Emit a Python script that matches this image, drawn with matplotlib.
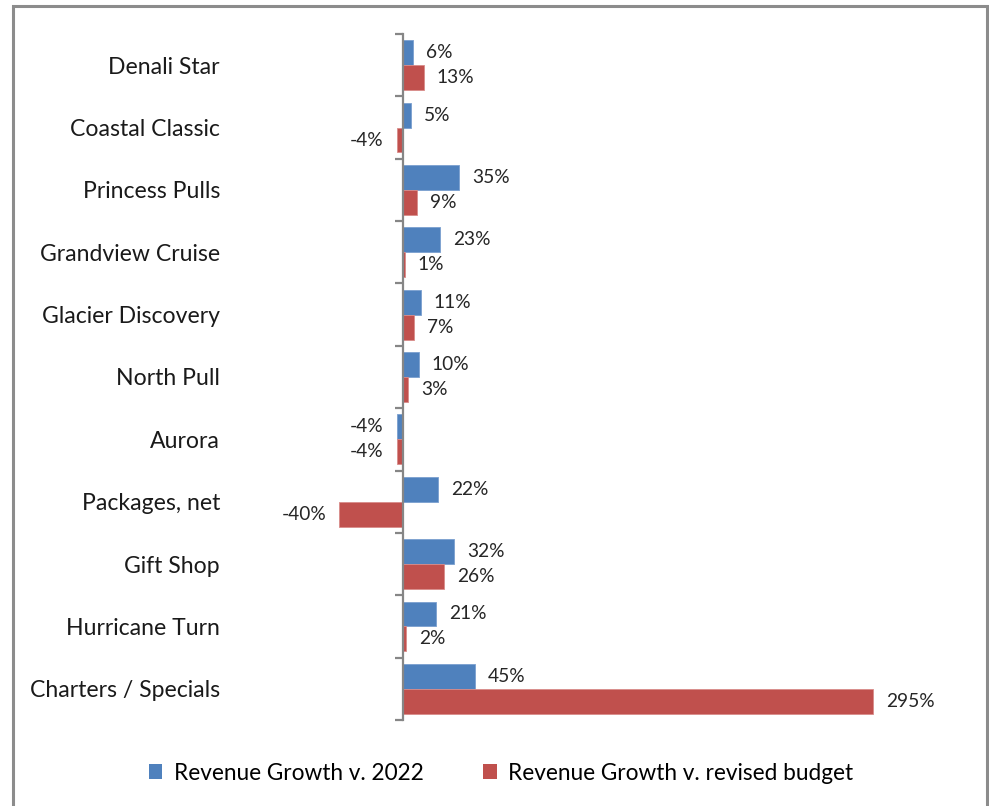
import matplotlib
matplotlib.use("Agg")
import matplotlib.pyplot as plt
from matplotlib.patches import Rectangle, Patch
from matplotlib.transforms import blended_transform_factory, offset_copy

# data
categories = ["Denali Star", "Coastal Classic", "Princess Pulls", "Grandview Cruise",
              "Glacier Discovery", "North Pull", "Aurora", "Packages, net",
              "Gift Shop", "Hurricane Turn", "Charters / Specials"]
growth_2022 = [6, 5, 35, 23, 11, 10, -4, 22, 32, 21, 45]
growth_budget = [13, -4, 9, 1, 7, 3, -4, -40, 26, 2, 295]
series_names = ["Revenue Growth v. 2022", "Revenue Growth v. revised budget"]

BLUE = "#4F81BD"
RED = "#C0504D"
FONT = "Lato"

plt.rcParams["font.family"] = [FONT, "DejaVu Sans"]

W, H = 989, 806
fig = plt.figure(figsize=(W / 100, H / 100), dpi=100)

# outer chart frame
fig.patches.append(Rectangle((13 / W, -0.02), 974 / W, 1.02 - 6 / H, transform=fig.transFigure,
                             fill=False, edgecolor="#8c8c8c", linewidth=2.2))

# plot area positioned so zero sits at x=403 px and 295% at x=873 px
px_per_unit = 470 / 295
xmin, xmax = -45, 310
left_px = 403 + xmin * px_per_unit
right_px = 403 + xmax * px_per_unit
top_px, bottom_px = 34, 720
ax = fig.add_axes([left_px / W, 1 - bottom_px / H, (right_px - left_px) / W, (bottom_px - top_px) / H])
ax.set_xlim(xmin, xmax)
n = len(categories)
ax.set_ylim(n - 0.5, -0.5)

pos = list(range(n))
h = 0.4
ax.barh([p - h / 2 for p in pos], growth_2022, height=h, color=BLUE, edgecolor="#7a9fcf", linewidth=0.6)
ax.barh([p + h / 2 for p in pos], growth_budget, height=h, color=RED, edgecolor="#d98c8a", linewidth=0.6)

off = 13 / px_per_unit
fs_val = 13.8
for p, v in zip(pos, growth_2022):
    ax.text(v + off if v >= 0 else v - off, p - h / 2, f"{v}%", ha="left" if v >= 0 else "right",
            va="center", fontsize=fs_val, color="#262626")
for p, v in zip(pos, growth_budget):
    ax.text(v + off if v >= 0 else v - off, p + h / 2, f"{v}%", ha="left" if v >= 0 else "right",
            va="center", fontsize=fs_val, color="#262626")

# category labels, right aligned at x=220 px
tr = offset_copy(blended_transform_factory(fig.transFigure, ax.transData), fig=fig, x=0, y=-2, units="dots")
for p, c in zip(pos, categories):
    fig.text(220 / W, p, c, transform=tr, ha="right", va="center", fontsize=16.6, color="#1a1a1a")

# vertical axis at zero with ticks at category boundaries
for s in ["top", "right", "bottom"]:
    ax.spines[s].set_visible(False)
ax.spines["left"].set_position(("data", 0))
ax.spines["left"].set_color("#868686")
ax.spines["left"].set_linewidth(1.6)
ax.set_yticks([p - 0.5 for p in range(n + 1)])
ax.set_yticklabels([])
ax.tick_params(axis="y", length=6, width=1.6, color="#868686", direction="out")
ax.set_xticks([])
ax.patch.set_visible(False)

handles = [Patch(facecolor=BLUE), Patch(facecolor=RED)]
fig.legend(handles, series_names, loc="center", bbox_to_anchor=(501 / W, 1 - 773 / H), ncol=2,
           frameon=False, fontsize=16.3, handlelength=0.6, handleheight=0.6, handletextpad=0.5,
           columnspacing=2.65)

fig.savefig("out.png", dpi=100)
